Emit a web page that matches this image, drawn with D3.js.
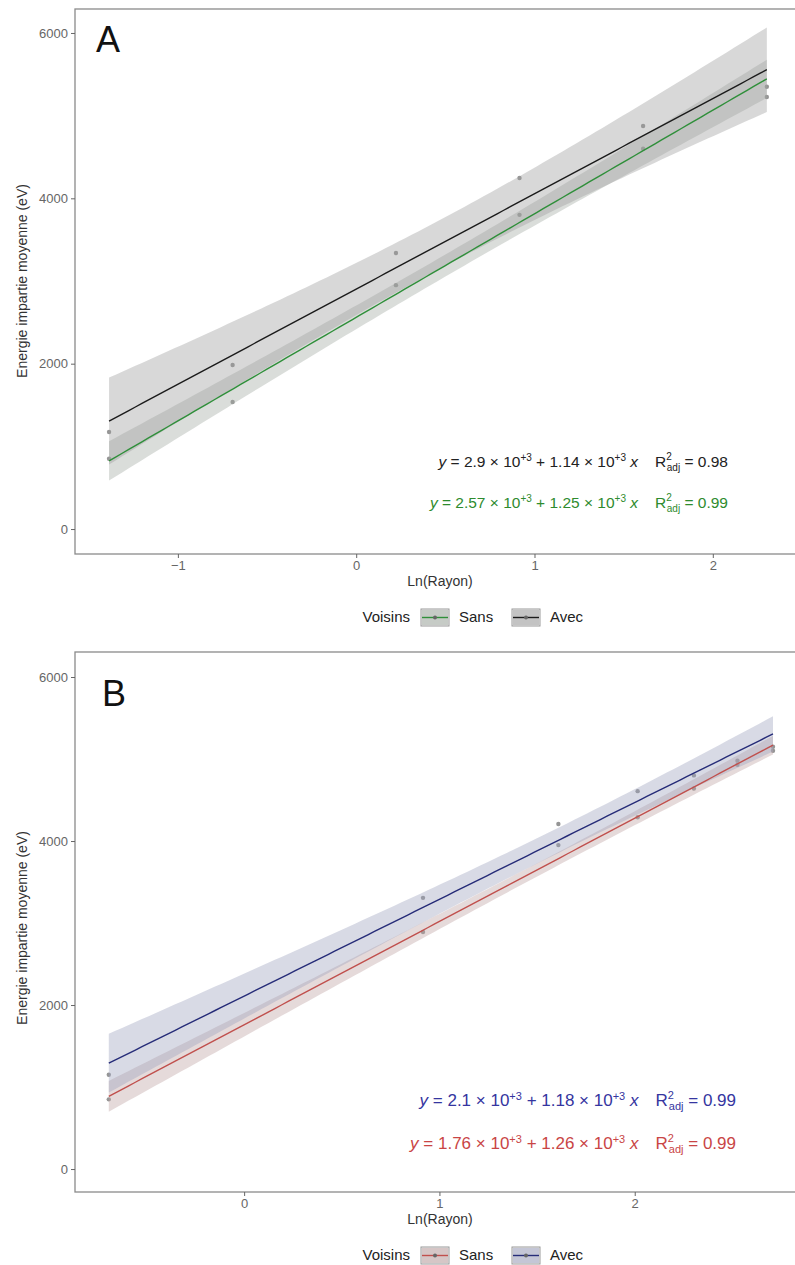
<!DOCTYPE html>
<html>
<head>
<meta charset="utf-8">
<script src="https://cdn.jsdelivr.net/npm/d3@7"></script>
<style>
  body { margin: 0; background: #fff; }
  svg { display: block; font-family: "Liberation Sans", Arial, sans-serif; }
</style>
</head>
<body>
<svg id="chart" width="795" height="1265"></svg>
<script>
// ---------------- DATA ----------------
const seriesNames = ["Sans", "Avec"];
const legendTitle = "Voisins";
const xLabel = "Ln(Rayon)";
const yLabel = "Energie impartie moyenne  (eV)";
const yTicks = [0, 2000, 4000, 6000];

// Panel A
const xA = [-1.386, -0.693, 0.223, 0.916, 1.609, 2.303];
const avecA = [1173, 1984, 3338, 4245, 4875, 5225];
const sansA = [850, 1536, 2950, 3800, 4600, 5350];
const xTicksA = [-1, 0, 1, 2];
const eqAvecA = { a: "2.9", b: "1.14", r2: "0.98" };
const eqSansA = { a: "2.57", b: "1.25", r2: "0.99" };

// Panel B
const xB = [-0.693, 0.916, 1.609, 2.015, 2.303, 2.526, 2.708];
const avecB = [1150, 3307, 4207, 4608, 4800, 4980, 5150];
const sansB = [850, 2890, 3950, 4290, 4640, 4930, 5100];
const xTicksB = [0, 1, 2];
const eqAvecB = { a: "2.1", b: "1.18", r2: "0.99" };
const eqSansB = { a: "1.76", b: "1.26", r2: "0.99" };

// Student t (0.975) by degrees of freedom
const tTable = { 3: 3.182, 4: 2.776, 5: 2.571, 6: 2.447 };

// ---------------- HELPERS ----------------
function fit(xs, ys) {
  const n = xs.length;
  const mx = d3.mean(xs), my = d3.mean(ys);
  let sxx = 0, sxy = 0;
  xs.forEach((x, i) => { sxx += (x - mx) ** 2; sxy += (x - mx) * (ys[i] - my); });
  const b = sxy / sxx, a = my - b * mx;
  let sse = 0;
  xs.forEach((x, i) => { sse += (ys[i] - (a + b * x)) ** 2; });
  const s = Math.sqrt(sse / (n - 2));
  const t = tTable[n - 2];
  const [x0, x1] = d3.extent(xs);
  const band = d3.range(0, 101).map(i => {
    const x = x0 + (x1 - x0) * i / 100;
    const yh = a + b * x;
    const hw = t * s * Math.sqrt(1 / n + (x - mx) ** 2 / sxx);
    return { x, y: yh, lo: yh - hw, hi: yh + hw };
  });
  return { a, b, band };
}

const svg = d3.select("#chart");

function equation(g, xEnd, y, color, eq, fs) {
  const sm = Math.round(fs * 0.62);
  const t = g.append("text")
    .attr("x", xEnd).attr("y", y)
    .attr("text-anchor", "end")
    .attr("fill", color)
    .attr("font-size", fs);
  t.append("tspan").attr("font-style", "italic").text("y");
  t.append("tspan").text(" = " + eq.a + " \u00d7 10");
  t.append("tspan").attr("font-size", sm).attr("dy", -6).text("+3");
  t.append("tspan").attr("dy", 6).text(" + " + eq.b + " \u00d7 10");
  t.append("tspan").attr("font-size", sm).attr("dy", -6).text("+3");
  t.append("tspan").attr("dy", 6).text(" ");
  t.append("tspan").attr("font-style", "italic").text("x");
  t.append("tspan").attr("dx", 17).text("R");
  t.append("tspan").attr("font-size", sm).attr("dy", -7).text("2");
  t.append("tspan").attr("font-size", sm).attr("dx", -5).attr("dy", 11).text("adj");
  t.append("tspan").attr("dy", -4).text(" = " + eq.r2);
}

function panel(cfg) {
  const g = svg.append("g");
  const x = d3.scaleLinear().domain(cfg.xDomain).range([cfg.left, cfg.right]);
  const y = d3.scaleLinear().domain(cfg.yDomain).range([cfg.bottom, cfg.top]);

  const clipId = "clip" + cfg.letter;
  svg.append("clipPath").attr("id", clipId)
    .append("rect").attr("x", cfg.left).attr("y", cfg.top)
    .attr("width", cfg.right - cfg.left).attr("height", cfg.bottom - cfg.top);

  const plot = g.append("g").attr("clip-path", `url(#${clipId})`);

  const series = [
    { name: "Sans", ys: cfg.sans, line: cfg.sansColor, fill: cfg.sansFill },
    { name: "Avec", ys: cfg.avec, line: cfg.avecColor, fill: cfg.avecFill }
  ];
  series.forEach(s => { s.fit = fit(cfg.xs, s.ys); });

  // points (under ribbons)
  series.forEach(s => {
    plot.selectAll(null).data(cfg.xs.map((xv, i) => [xv, s.ys[i]]))
      .enter().append("circle")
      .attr("cx", d => x(d[0])).attr("cy", d => y(d[1]))
      .attr("r", 2.2).attr("fill", "#959595");
  });

  // ribbons
  const area = d3.area().x(d => x(d.x)).y0(d => y(d.lo)).y1(d => y(d.hi));
  series.forEach(s => {
    plot.append("path").datum(s.fit.band)
      .attr("d", area).attr("fill", s.fill).attr("fill-opacity", 0.4);
  });
  // lines
  const line = d3.line().x(d => x(d.x)).y(d => y(d.y));
  series.forEach(s => {
    plot.append("path").datum(s.fit.band)
      .attr("d", line).attr("fill", "none")
      .attr("stroke", s.line).attr("stroke-width", 1.4);
  });

  // frame
  g.append("rect").attr("x", cfg.left).attr("y", cfg.top)
    .attr("width", cfg.right - cfg.left).attr("height", cfg.bottom - cfg.top)
    .attr("fill", "none").attr("stroke", "#8a8a8a").attr("stroke-width", 1.3);

  // axes
  const ay = g.append("g").attr("transform", `translate(${cfg.left},0)`)
    .call(d3.axisLeft(y).tickValues(yTicks).tickSize(4).tickPadding(3).tickFormat(d3.format("d")));
  const ax = g.append("g").attr("transform", `translate(0,${cfg.bottom})`)
    .call(d3.axisBottom(x).tickValues(cfg.xTicks).tickSize(4).tickPadding(3).tickFormat(d3.format("d")));
  [ax, ay].forEach(a => {
    a.select(".domain").remove();
    a.selectAll(".tick line").attr("stroke", "#666");
    a.selectAll(".tick text").attr("fill", "#666").attr("font-size", 13)
      .attr("font-family", "Liberation Sans, Arial, sans-serif");
  });

  // panel letter
  g.append("text").attr("x", cfg.letterX).attr("y", cfg.letterY)
    .attr("font-size", 36).attr("fill", "#111").text(cfg.letter);

  // axis titles
  g.append("text").attr("x", 440).attr("y", cfg.bottom + 32)
    .attr("text-anchor", "middle").attr("font-size", 14).attr("fill", "#333").text(xLabel);
  g.append("text")
    .attr("transform", `translate(27,${cfg.yLabelY}) rotate(-90)`)
    .attr("text-anchor", "middle").attr("font-size", 14).attr("fill", "#333").text(yLabel);

  // equations
  equation(g, cfg.eqEnd, cfg.eq1Y, cfg.avecText, cfg.eqAvec, cfg.eqFont);
  equation(g, cfg.eqEnd, cfg.eq2Y, cfg.sansText, cfg.eqSans, cfg.eqFont);

  // legend
  const ly = cfg.legendY;
  const lg = g.append("g");
  lg.append("text").attr("x", 410).attr("y", ly + 5).attr("text-anchor", "end")
    .attr("font-size", 15).attr("fill", "#222").text(legendTitle);
  const keyX = [421, 512];
  series.forEach((s, i) => {
    const kx = keyX[i];
    lg.append("rect").attr("x", kx).attr("y", ly - 8).attr("width", 28).attr("height", 17)
      .attr("fill", "#f2f2f2").attr("stroke", "#9a9a9a").attr("stroke-width", 1);
    lg.append("rect").attr("x", kx + 1).attr("y", ly - 7).attr("width", 26).attr("height", 15)
      .attr("fill", s.fill).attr("fill-opacity", 0.55);
    lg.append("line").attr("x1", kx + 1).attr("x2", kx + 27).attr("y1", ly + 0.5).attr("y2", ly + 0.5)
      .attr("stroke", s.line).attr("stroke-width", 1.4);
    lg.append("circle").attr("cx", kx + 14).attr("cy", ly + 0.5).attr("r", 2).attr("fill", "#666");
    lg.append("text").attr("x", kx + 38).attr("y", ly + 5)
      .attr("font-size", 15).attr("fill", "#222").text(s.name);
  });
}

panel({
  letter: "A", letterX: 96, letterY: 52,
  left: 75, right: 800, top: 9, bottom: 554,
  xDomain: [-1.577, 2.489], yDomain: [-302, 6290],
  xs: xA, avec: avecA, sans: sansA, xTicks: xTicksA,
  avecColor: "#1b1b1b", sansColor: "#2f8f3a",
  avecFill: "#9d9d9d", sansFill: "#a3aba3",
  avecText: "#222222", sansText: "#2e8b2e",
  eqAvec: eqAvecA, eqSans: eqSansA,
  eqEnd: 728, eqFont: 15.5,
  eq1Y: 467, eq2Y: 508,
  yLabelY: 281, legendY: 617
});

panel({
  letter: "B", letterX: 102, letterY: 706,
  left: 75, right: 806, top: 652, bottom: 1192,
  xDomain: [-0.866, 2.877], yDomain: [-280, 6305],
  xs: xB, avec: avecB, sans: sansB, xTicks: xTicksB,
  avecColor: "#262c78", sansColor: "#c0504d",
  avecFill: "#9ea2bf", sansFill: "#bfa3a3",
  avecText: "#3535a0", sansText: "#c94545",
  eqAvec: eqAvecB, eqSans: eqSansB,
  eqEnd: 736, eqFont: 17,
  eq1Y: 1106, eq2Y: 1149,
  yLabelY: 928, legendY: 1255
});
</script>
</body>
</html>
